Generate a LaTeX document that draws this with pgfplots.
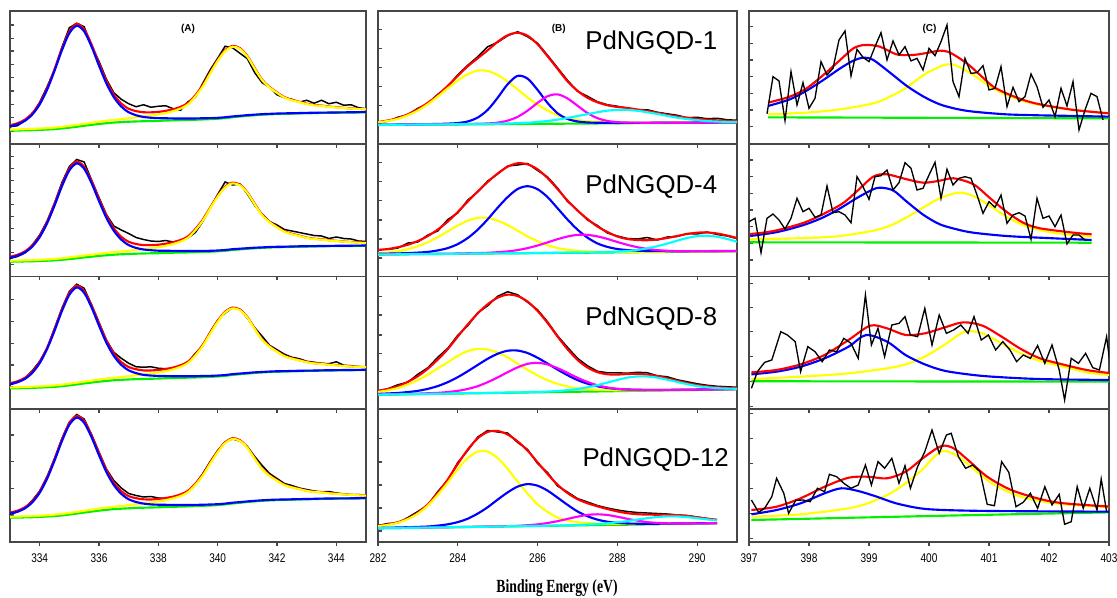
\documentclass[border=0pt]{standalone}
\usepackage{fontspec}
\setmainfont{Liberation Sans}
\newfontfamily\tnr{Liberation Serif}
\usepackage{graphicx}
\usepackage{pgfplots}
\usepackage{pgfplotstable}
\pgfplotsset{compat=1.18}
\definecolor{cYel}{RGB}{255,255,0}
\definecolor{cGrn}{RGB}{0,240,0}
\definecolor{cMag}{RGB}{255,0,255}
\definecolor{cCya}{RGB}{0,255,255}
\definecolor{cBlu}{RGB}{0,0,255}
\definecolor{cRed}{RGB}{255,0,0}

\pgfplotstableread{
E g bl ye re bk
333.00 13.1 17.4 14.2 18.5 17.0
333.25 13.2 19.4 14.3 20.5 18.0
333.50 13.4 22.9 14.6 24.1 23.0
333.75 13.6 29.2 14.9 30.5 29.5
334.00 13.9 39.3 15.2 40.6 41.5
334.25 14.2 54.0 15.6 55.4 57.0
334.50 14.6 72.9 16.2 74.5 74.0
334.75 15.3 93.5 16.9 95.1 96.5
335.00 16.1 110.5 17.9 112.3 116.0
335.25 17.0 118.0 18.9 119.9 120.5
335.50 18.0 112.4 20.0 114.4 117.0
335.75 18.9 97.1 21.0 99.2 98.0
336.00 19.8 78.1 22.1 80.4 82.5
336.25 20.5 60.3 23.0 62.8 64.5
336.50 21.2 46.6 23.8 49.2 51.0
336.75 21.6 37.2 24.6 40.2 44.5
337.00 22.0 31.5 25.5 35.0 40.0
337.25 22.3 28.5 26.4 32.6 37.0
337.50 22.5 26.8 27.2 31.5 39.0
337.75 22.7 26.0 28.1 31.4 36.5
338.00 22.9 25.6 29.2 31.9 37.5
338.25 23.2 25.5 30.6 32.9 38.0
338.50 23.4 25.3 32.6 34.5 35.0
338.75 23.6 25.3 35.2 36.9 33.5
339.00 23.8 25.3 39.3 40.8 42.0
339.25 24.0 25.3 47.3 48.6 46.5
339.50 24.3 25.5 57.4 58.6 60.5
339.75 24.6 25.6 70.4 71.4 74.0
340.00 25.0 25.9 82.8 83.7 85.5
340.25 25.6 26.5 92.6 93.5 97.5
340.50 26.5 27.3 97.0 97.8 96.0
340.75 27.2 27.9 94.9 95.6 90.5
341.00 27.9 28.6 87.1 87.8 85.0
341.25 28.5 29.1 75.0 75.6 71.0
341.50 29.0 29.6 63.5 64.1 61.0
341.75 29.4 29.9 56.2 56.7 56.5
342.00 29.7 30.2 50.9 51.4 49.0
342.25 29.9 30.4 46.1 46.6 46.0
342.50 30.1 30.5 43.5 43.9 44.5
342.75 30.3 30.7 41.6 42.0 41.5
343.00 30.5 30.9 39.7 40.1 43.5
343.25 30.6 31.0 38.4 38.8 40.5
343.50 30.8 31.1 37.9 38.2 43.5
343.75 30.9 31.2 36.9 37.2 40.0
344.00 31.0 31.3 36.3 36.6 41.5
344.25 31.1 31.4 35.7 35.9 38.5
344.50 31.2 31.5 35.1 35.3 39.0
344.75 31.3 31.6 34.7 34.9 36.0
345.00 31.4 31.7 34.4 34.6 35.0
}\tAone

\pgfplotstableread{
E g bl ye re bk
333.00 14.8 18.8 15.8 19.8 18.0
333.25 14.9 20.7 15.9 21.7 20.0
333.50 15.1 24.0 16.2 25.1 23.5
333.75 15.2 29.9 16.4 31.1 31.5
334.00 15.5 39.4 16.7 40.6 41.5
334.25 15.8 53.2 17.1 54.5 55.5
334.50 16.1 70.9 17.6 72.4 73.5
334.75 16.7 90.2 18.2 91.7 94.0
335.00 17.4 106.1 19.1 107.8 110.0
335.25 18.2 113.1 20.0 114.9 117.0
335.50 19.1 107.8 21.0 109.7 114.5
335.75 19.8 93.3 21.8 95.3 96.5
336.00 20.6 75.4 22.8 77.6 79.0
336.25 21.2 58.6 23.6 61.0 62.0
336.50 21.8 45.7 24.3 48.2 50.5
336.75 22.2 36.9 25.0 39.7 46.5
337.00 22.5 31.4 25.8 34.7 43.0
337.25 22.8 28.6 26.7 32.5 39.0
337.50 23.0 27.0 27.4 31.4 37.0
337.75 23.2 26.3 28.3 31.4 35.5
338.00 23.3 25.8 29.3 31.8 35.0
338.25 23.6 25.8 30.6 32.8 36.0
338.50 23.8 25.6 32.5 34.3 34.5
338.75 23.9 25.5 34.9 36.5 36.0
339.00 24.1 25.5 38.7 40.1 38.5
339.25 24.3 25.5 46.3 47.5 44.0
339.50 24.5 25.6 55.8 56.9 55.0
339.75 24.8 25.7 68.1 69.0 68.5
340.00 25.2 26.0 79.8 80.6 82.0
340.25 25.7 26.5 89.0 89.8 94.5
340.50 26.5 27.3 93.1 93.9 91.5
340.75 27.1 27.8 91.1 91.8 92.5
341.00 27.7 28.3 83.6 84.2 82.5
341.25 28.2 28.8 72.1 72.7 71.0
341.50 28.6 29.1 61.2 61.7 62.5
341.75 29.0 29.5 54.3 54.8 55.0
342.00 29.2 29.7 49.2 49.7 51.5
342.25 29.4 29.8 44.7 45.1 47.0
342.50 29.6 30.0 42.3 42.7 45.5
342.75 29.8 30.2 40.5 40.9 44.0
343.00 29.9 30.3 38.6 38.9 42.5
343.25 30.0 30.4 37.4 37.8 41.0
343.50 30.2 30.5 36.9 37.2 40.5
343.75 30.3 30.6 36.0 36.3 38.0
344.00 30.4 30.7 35.4 35.7 39.5
344.25 30.5 30.8 34.8 35.0 38.0
344.50 30.5 30.8 34.2 34.5 37.5
344.75 30.6 30.9 33.8 34.1 35.5
345.00 30.7 31.0 33.5 33.7 35.0
}\tAtwo

\pgfplotstableread{
E g bl ye re bk
333.00 20.9 25.0 21.9 26.0 24.5
333.25 21.0 27.0 22.0 28.0 27.0
333.50 21.2 30.3 22.3 31.4 31.0
333.75 21.4 36.4 22.6 37.6 38.5
334.00 21.7 46.1 22.9 47.3 48.0
334.25 22.0 60.2 23.3 61.5 61.0
334.50 22.4 78.4 23.9 79.9 81.0
334.75 23.1 98.2 24.6 99.7 101.0
335.00 23.9 114.5 25.6 116.2 118.0
335.25 24.8 121.8 26.6 123.6 125.0
335.50 25.8 116.4 27.7 118.3 121.0
335.75 26.7 101.8 28.7 103.8 104.5
336.00 27.6 83.6 29.8 85.8 87.0
336.25 28.3 66.5 30.7 68.9 69.0
336.50 29.0 53.4 31.5 55.9 57.0
336.75 29.4 44.4 32.2 47.2 51.0
337.00 29.8 38.9 33.1 42.2 46.0
337.25 30.1 36.1 34.0 40.0 42.5
337.50 30.3 34.4 34.7 38.8 42.0
337.75 30.5 33.7 35.6 38.8 42.5
338.00 30.7 33.3 36.7 39.3 41.0
338.25 31.0 33.2 38.0 40.2 40.5
338.50 31.2 33.0 39.9 41.7 41.0
338.75 31.4 33.0 42.4 44.0 42.5
339.00 31.6 33.0 46.2 47.6 47.0
339.25 31.8 33.0 53.8 55.0 56.0
339.50 32.1 33.3 63.4 64.6 63.5
339.75 32.4 33.4 75.7 76.7 77.5
340.00 32.8 33.7 87.4 88.3 89.0
340.25 33.4 34.2 96.7 97.5 96.0
340.50 34.3 35.1 100.9 101.7 101.5
340.75 35.0 35.7 99.0 99.7 100.0
341.00 35.7 36.3 91.6 92.2 91.0
341.25 36.3 36.9 80.2 80.8 81.5
341.50 36.8 37.3 69.4 69.9 73.0
341.75 37.2 37.7 62.5 63.0 64.0
342.00 37.5 38.0 57.5 58.0 59.5
342.25 37.7 38.1 53.0 53.4 55.0
342.50 37.9 38.3 50.6 51.0 52.0
342.75 38.1 38.5 48.8 49.2 50.5
343.00 38.3 38.6 47.0 47.3 48.0
343.25 38.4 38.7 45.8 46.1 47.0
343.50 38.6 38.9 45.3 45.6 46.0
343.75 38.7 39.0 44.4 44.7 45.5
344.00 38.8 39.1 43.8 44.1 47.5
344.25 38.9 39.2 43.2 43.4 44.0
344.50 39.0 39.3 42.7 42.9 43.5
344.75 39.1 39.4 42.3 42.5 42.5
345.00 39.2 39.5 42.0 42.2 42.0
}\tAthree

\pgfplotstableread{
E g bl ye re bk
333.00 24.3 28.4 25.3 29.4 28.0
333.25 24.4 30.3 25.4 31.3 30.0
333.50 24.6 33.6 25.7 34.7 34.0
333.75 24.8 39.6 26.0 40.8 41.5
334.00 25.1 49.2 26.3 50.4 51.0
334.25 25.5 63.3 26.8 64.6 65.5
334.50 25.9 81.3 27.4 82.8 83.5
334.75 26.6 100.9 28.1 102.4 103.5
335.00 27.5 117.2 29.1 118.8 120.0
335.25 28.4 124.4 30.1 126.1 127.5
335.50 29.5 119.2 31.3 121.0 123.0
335.75 30.4 104.7 32.3 106.6 107.5
336.00 31.4 86.8 33.5 88.9 90.0
336.25 32.1 69.9 34.4 72.2 73.0
336.50 32.9 57.0 35.3 59.4 61.5
336.75 33.3 48.1 36.0 50.8 54.0
337.00 33.7 42.7 36.9 45.9 48.5
337.25 34.1 40.0 37.9 43.8 46.5
337.50 34.3 38.4 38.6 42.7 45.0
337.75 34.5 37.6 39.4 42.5 45.5
338.00 34.7 37.3 40.5 43.1 44.0
338.25 35.0 37.2 41.8 44.0 43.5
338.50 35.2 37.0 43.6 45.4 45.0
338.75 35.4 37.0 46.0 47.6 46.5
339.00 35.6 37.0 49.8 51.2 50.0
339.25 35.9 37.1 57.2 58.4 58.0
339.50 36.2 37.3 66.5 67.6 68.5
339.75 36.5 37.5 78.4 79.4 80.5
340.00 36.9 37.8 89.8 90.7 91.5
340.25 37.6 38.4 98.9 99.7 100.0
340.50 38.5 39.3 103.0 103.8 103.0
340.75 39.2 39.9 101.1 101.8 101.0
341.00 40.0 40.6 94.2 94.8 95.5
341.25 40.6 41.2 83.1 83.7 85.5
341.50 41.2 41.7 72.8 73.3 76.5
341.75 41.6 42.1 66.1 66.6 68.5
342.00 41.9 42.4 61.3 61.8 63.5
342.25 42.1 42.5 56.9 57.3 58.5
342.50 42.3 42.7 54.6 55.0 56.5
342.75 42.5 42.9 52.8 53.2 54.0
343.00 42.7 43.0 51.1 51.4 52.5
343.25 42.9 43.2 50.0 50.3 51.0
343.50 43.1 43.4 49.6 49.9 50.0
343.75 43.2 43.5 48.7 49.0 50.5
344.00 43.3 43.6 48.1 48.4 49.0
344.25 43.4 43.6 47.6 47.8 48.0
344.50 43.5 43.7 47.1 47.3 47.0
344.75 43.6 43.8 46.7 46.9 47.5
345.00 43.7 43.9 46.4 46.6 46.5
}\tAfour

\pgfplotstableread{
E b ye bl ma cy re bk
282.00 18.8 21.3 19.0 18.9 18.9 21.7 21.0
282.25 18.9 22.8 19.1 19.0 19.0 23.3 22.5
282.50 18.9 24.9 19.2 19.0 19.0 25.6 26.5
282.75 19.0 28.5 19.3 19.1 19.1 29.5 29.0
283.00 19.1 33.2 19.5 19.3 19.2 34.5 35.5
283.25 19.1 39.6 19.6 19.3 19.2 41.0 40.0
283.50 19.2 47.2 19.8 19.4 19.3 48.5 49.5
283.75 19.3 55.5 20.1 19.6 19.4 58.0 57.0
284.00 19.3 63.3 20.7 19.6 19.5 68.0 69.0
284.25 19.4 69.6 22.3 19.8 19.6 77.5 78.5
284.50 19.5 73.2 26.2 20.0 19.7 85.5 87.0
284.75 19.5 72.8 33.9 20.3 19.8 93.5 97.0
285.00 19.6 68.8 46.0 21.1 20.0 102.0 101.5
285.25 19.7 62.2 59.5 23.1 20.2 108.5 108.0
285.50 19.8 54.4 67.9 26.9 20.6 111.0 112.0
285.75 19.8 46.2 65.1 33.1 21.0 108.0 107.0
286.00 19.9 39.1 53.9 40.9 21.8 99.5 100.5
286.25 20.0 33.2 40.8 47.5 22.8 87.5 88.5
286.50 20.0 28.6 30.5 49.4 24.1 75.0 76.0
286.75 20.1 25.7 24.8 45.3 25.8 62.5 63.5
287.00 20.2 23.8 22.3 38.1 27.7 53.0 52.5
287.25 20.2 22.5 21.3 30.8 29.6 46.0 47.5
287.50 20.3 21.9 21.0 25.6 31.5 41.5 42.0
287.75 20.4 21.6 20.9 22.8 33.1 38.5 39.0
288.00 20.4 21.3 20.8 21.6 33.8 36.8 37.5
288.25 20.5 21.3 20.9 21.2 33.9 35.8 35.5
288.50 20.6 21.2 20.9 21.1 33.0 34.3 33.5
288.75 20.6 21.1 20.9 21.0 31.5 32.7 34.0
289.00 20.7 21.2 21.0 21.0 29.8 30.9 31.5
289.25 20.8 21.2 21.1 21.1 27.9 29.0 30.0
289.50 20.8 21.2 21.0 21.0 26.1 27.3 28.5
289.75 20.9 21.3 21.1 21.1 24.7 26.0 26.0
290.00 21.0 21.3 21.2 21.2 23.6 24.9 26.5
290.25 21.0 21.3 21.2 21.2 22.7 24.0 25.0
290.50 21.1 21.4 21.3 21.3 22.2 23.4 25.5
290.75 21.2 21.5 21.4 21.4 21.9 23.0 24.0
291.00 21.2 21.5 21.4 21.3 21.7 22.7 23.5
}\tBone

\pgfplotstableread{
E b ye bl ma cy re bk
282.00 22.0 23.3 22.7 22.1 22.0 26.5 27.0
282.25 22.1 24.0 22.9 22.2 22.1 27.5 27.0
282.50 22.2 25.3 23.1 22.3 22.2 29.3 28.5
282.75 22.3 27.3 23.4 22.4 22.3 31.8 33.5
283.00 22.4 30.3 23.9 22.5 22.4 35.5 34.5
283.25 22.4 34.3 24.6 22.6 22.4 40.5 41.5
283.50 22.5 39.4 26.1 22.7 22.5 47.0 45.5
283.75 22.6 45.2 28.4 22.8 22.6 55.0 57.0
284.00 22.7 51.0 32.4 23.0 22.8 64.5 63.5
284.25 22.8 55.8 38.5 23.2 22.9 75.0 76.5
284.50 22.9 58.6 46.8 23.4 23.0 85.0 84.5
284.75 23.0 58.6 57.2 23.7 23.1 94.5 95.5
285.00 23.1 55.8 68.8 24.3 23.1 103.0 102.5
285.25 23.1 51.4 79.4 25.1 23.2 109.8 110.5
285.50 23.2 45.8 87.5 26.4 23.3 113.2 111.5
285.75 23.3 40.0 90.3 28.4 23.4 112.2 113.0
286.00 23.4 35.3 87.3 31.0 23.5 107.2 106.0
286.25 23.5 31.2 79.4 34.1 23.6 98.5 99.5
286.50 23.6 28.5 68.3 37.3 23.8 87.5 88.5
286.75 23.7 26.8 57.0 40.0 23.9 76.0 75.0
287.00 23.8 25.7 46.9 41.6 24.0 66.0 66.5
287.25 23.8 25.1 38.9 41.6 24.1 57.5 56.5
287.50 23.9 24.8 33.1 40.1 24.2 50.0 51.0
287.75 24.0 24.7 29.6 37.6 24.5 44.5 43.5
288.00 24.1 24.6 27.5 34.5 24.9 40.0 40.5
288.25 24.2 24.7 26.4 31.7 25.5 37.5 38.0
288.50 24.3 24.7 25.8 29.3 26.5 36.5 37.5
288.75 24.4 24.8 25.5 27.6 28.2 36.3 39.0
289.00 24.5 24.8 25.4 26.4 30.3 37.0 36.5
289.25 24.5 24.8 25.3 25.7 32.9 38.5 39.5
289.50 24.6 24.9 25.3 25.3 35.8 40.5 40.0
289.75 24.7 25.0 25.3 25.2 38.5 42.5 43.0
290.00 24.8 25.0 25.4 25.2 40.4 43.8 42.5
290.25 24.9 25.1 25.4 25.2 40.8 44.0 44.5
290.50 25.0 25.2 25.5 25.3 39.7 43.0 42.0
290.75 25.1 25.3 25.5 25.4 37.6 41.0 40.5
291.00 25.2 25.4 25.6 25.4 34.8 38.5 38.0
}\tBtwo

\pgfplotstableread{
E b ye bl ma cy re bk
282.00 14.5 17.3 15.3 14.8 14.6 18.5 18.0
282.25 14.7 18.9 15.8 15.0 14.8 20.4 20.5
282.50 14.8 21.3 16.3 15.2 14.9 23.0 24.5
282.75 15.0 24.8 17.2 15.4 15.1 27.5 27.0
283.00 15.1 29.2 18.4 15.6 15.2 33.1 35.0
283.25 15.3 34.7 20.4 16.0 15.4 40.6 41.5
283.50 15.4 40.9 23.2 16.4 15.5 49.8 52.0
283.75 15.6 47.0 27.1 17.2 15.7 60.2 61.0
284.00 15.7 53.4 32.1 18.4 15.9 72.7 74.0
284.25 15.9 58.1 38.0 20.3 16.1 84.8 83.5
284.50 16.0 60.3 44.3 23.1 16.1 95.8 96.5
284.75 16.2 59.7 50.5 27.1 16.3 105.0 103.5
285.00 16.3 56.7 55.5 31.8 16.5 111.6 113.0
285.25 16.5 51.8 58.5 37.1 16.7 114.6 117.5
285.50 16.6 45.6 58.7 41.9 16.8 113.2 114.5
285.75 16.8 39.4 56.2 45.4 17.1 107.7 107.0
286.00 16.9 33.8 51.5 46.4 17.3 98.3 99.5
286.25 17.1 29.0 45.7 44.8 17.7 86.4 87.5
286.50 17.2 25.4 39.7 41.1 18.2 72.8 73.5
286.75 17.4 22.7 34.1 36.4 19.1 60.1 62.0
287.00 17.5 21.0 29.2 31.5 20.2 49.4 51.0
287.25 17.7 20.0 25.6 27.3 22.0 41.8 43.5
287.50 17.8 19.4 23.0 24.0 24.1 37.1 38.0
287.75 18.0 19.2 21.3 21.8 26.7 35.0 36.5
288.00 18.1 19.0 20.3 20.4 29.3 34.7 36.5
288.25 18.3 19.0 19.8 19.7 31.6 35.2 36.0
288.50 18.4 19.0 19.5 19.3 32.8 35.4 37.0
288.75 18.6 19.1 19.4 19.2 32.8 34.7 36.5
289.00 18.7 19.2 19.4 19.2 31.6 33.2 33.5
289.25 18.9 19.3 19.4 19.3 29.6 30.9 32.5
289.50 19.0 19.4 19.5 19.4 27.3 28.5 29.5
289.75 19.2 19.5 19.6 19.5 25.1 26.1 27.5
290.00 19.3 19.6 19.7 19.6 23.2 24.2 25.5
290.25 19.5 19.8 19.9 19.7 22.0 22.9 24.0
290.50 19.6 19.9 20.0 19.9 21.1 22.0 23.0
290.75 19.8 20.0 20.1 20.0 20.7 21.4 22.5
291.00 19.9 20.1 20.2 20.1 20.5 21.2 22.0
}\tBthree

\pgfplotstableread{
E b ye bl ma cy re bk
282.00 13.7 15.8 14.1 13.7 13.7 16.2 16.5
282.25 13.9 17.1 14.3 13.9 13.9 17.6 18.5
282.50 14.0 19.2 14.5 14.0 14.0 19.8 19.0
282.75 14.2 22.9 14.8 14.2 14.2 23.5 24.5
283.00 14.3 28.4 15.1 14.4 14.3 29.3 30.5
283.25 14.4 36.4 15.5 14.5 14.4 37.6 37.0
283.50 14.6 47.3 16.4 14.7 14.6 49.2 50.5
283.75 14.7 59.5 17.7 14.8 14.7 62.6 62.0
284.00 14.9 73.0 19.9 15.0 14.9 78.1 79.5
284.25 15.0 84.0 23.3 15.1 15.0 92.4 91.5
284.50 15.2 90.4 28.4 15.3 15.2 103.7 105.0
284.75 15.3 90.4 34.8 15.5 15.3 110.1 111.5
285.00 15.5 83.9 42.4 15.7 15.5 111.0 110.0
285.25 15.6 73.1 49.6 15.9 15.7 107.5 109.0
285.50 15.7 60.3 55.4 16.2 15.8 100.6 99.5
285.75 15.9 48.4 57.9 16.8 16.0 91.4 92.5
286.00 16.0 37.7 56.3 17.6 16.1 79.7 78.5
286.25 16.2 30.0 51.4 19.0 16.3 68.1 69.5
286.50 16.3 24.5 44.4 20.8 16.5 57.3 56.0
286.75 16.5 21.5 37.2 23.1 16.7 49.0 50.0
287.00 16.6 19.8 30.6 25.3 17.0 42.9 43.5
287.25 16.8 18.9 25.8 27.1 17.4 38.8 40.0
287.50 16.9 18.4 22.4 27.7 17.9 35.7 36.5
287.75 17.1 18.2 20.3 27.0 18.7 33.0 34.0
288.00 17.2 18.1 19.1 25.3 19.7 30.6 32.0
288.25 17.3 18.1 18.5 23.2 20.9 28.8 30.5
288.50 17.5 18.2 18.3 21.4 22.4 27.8 29.5
288.75 17.6 18.2 18.3 19.9 23.8 27.4 29.0
289.00 17.8 18.3 18.3 19.1 25.0 27.3 28.5
289.25 17.9 18.4 18.4 18.7 25.6 27.3 28.0
289.50 18.1 18.5 18.5 18.5 25.6 26.8 27.0
289.75 18.2 18.6 18.6 18.5 24.9 26.0 26.5
290.00 18.4 18.7 18.7 18.6 23.8 24.7 25.0
290.25 18.5 18.8 18.8 18.7 22.6 23.4 23.5
290.50 18.6 18.9 18.9 18.8 21.5 22.3 nan
}\tBfour

\pgfplotsset{
  panel/.style={scale only axis, height=99.5625pt, ymin=0, ymax=132.75,
    anchor=south west, tick pos=left, xtick align=outside, ytick align=inside,
    major tick length=3pt, yticklabels={}, no markers,
    axis line style={draw=black!72, line width=1.2pt},
    every tick/.style={draw=black!72, line width=0.8pt}},
  colA/.style={width=267pt, xmin=333, xmax=345, xtick={334,336,338,340,342,344}},
  colB/.style={width=269.25pt, xmin=282, xmax=291, xtick={282,284,286,288,290}},
  colC/.style={width=270pt, xmin=397, xmax=403, xtick={397,398,399,400,401,402,403}},
  nolab/.style={xticklabels={}},
  lab/.style={xticklabel={\scalebox{0.8}[1]{\pgfmathprintnumber[assume math mode=true]{\tick}}},
    xticklabel style={font=\fontsize{9.45}{10}\selectfont, yshift=-2.25pt}},
  cv/.style={line width=1.6pt, smooth},
  dat/.style={black, line width=1.1pt},
}

\newcommand{\Aplots}[1]{%
  \addplot[dat] table[x=E,y=bk]{#1};
  \addplot[cv,cRed] table[x=E,y=re]{#1};
  \addplot[cv,cGrn] table[x=E,y=g]{#1};
  \addplot[cv,cYel] table[x=E,y=ye]{#1};
  \addplot[cv,cBlu] table[x=E,y=bl]{#1};
}
\newcommand{\Bplots}[1]{%
  \addplot[dat] table[x=E,y=bk]{#1};
  \addplot[cv,cRed] table[x=E,y=re]{#1};
  \addplot[cv,cGrn] table[x=E,y=b]{#1};
  \addplot[cv,cYel] table[x=E,y=ye]{#1};
  \addplot[cv,cBlu] table[x=E,y=bl]{#1};
  \addplot[cv,cMag] table[x=E,y=ma]{#1};
  \addplot[cv,cCya] table[x=E,y=cy]{#1};
}
\newcommand{\pname}[3]{\node[anchor=base west, inner sep=0pt, font=\fontsize{19.35}{20}\selectfont] at (axis cs:#1,#2) {#3};}

\begin{document}
\begin{tikzpicture}
\useasboundingbox (0pt,0pt) rectangle (837.75pt,447.75pt);

% ---------- Column A ----------
\begin{axis}[panel, colA, nolab, at={(7.5pt,339.9375pt)},
  ytick={12.75,26.1,39.4,52.75,66.1,79.4,92.75,105.4,118.75}]
\Aplots{\tAone}
\node[font=\bfseries\fontsize{7.5}{8}\selectfont] at (axis cs:339.0,115) {(A)};
\end{axis}
\begin{axis}[panel, colA, nolab, at={(7.5pt,240.375pt)},
  ytick={12.2,24.2,35.8,48.2,59.8,72.2,84.2,95.8,108.2,119.8}]
\Aplots{\tAtwo}
\end{axis}
\begin{axis}[panel, colA, nolab, at={(7.5pt,140.8125pt)},
  ytick={22.6,44.25,65.9,87.6,109.9}]
\Aplots{\tAthree}
\end{axis}
\begin{axis}[panel, colA, lab, at={(7.5pt,41.25pt)},
  ytick={27,53.7,80.3,107}]
\Aplots{\tAfour}
\end{axis}

% ---------- Column B ----------
\begin{axis}[panel, colB, nolab, at={(283.5pt,339.9375pt)},
  ytick={19.75,38.4,57.1,76.1,95.1,114.4}]
\Bplots{\tBone}
\node[font=\bfseries\fontsize{7.5}{8}\selectfont] at (axis cs:286.53,115) {(B)};
\pname{287.19}{93.75}{PdNGQD-1}
\end{axis}
\begin{axis}[panel, colB, nolab, at={(283.5pt,240.375pt)},
  ytick={18.5,37.5,56.5,75.8,94.8,114.2}]
\Bplots{\tBtwo}
\pname{287.19}{83.2}{PdNGQD-4}
\end{axis}
\begin{axis}[panel, colB, nolab, at={(283.5pt,140.8125pt)},
  ytick={19,37.6,55.9,74.25,94.25,112.6}]
\Bplots{\tBthree}
\pname{287.19}{84.25}{PdNGQD-8}
\end{axis}
\begin{axis}[panel, colB, lab, at={(283.5pt,41.25pt)},
  ytick={11,34,57,80,103.5}]
\Bplots{\tBfour}
\pname{287.12}{75.3}{PdNGQD-12}
\end{axis}

% ---------- Column C ----------
\begin{axis}[panel, colC, nolab, at={(561.75pt,339.9375pt)},
  ytick={17.1,33.75,50.4,67.1,83.75,100.4,117.1}]
\addplot[cv,cGrn] coordinates {(397.32,26.4) (403.0,25.4)};
\addplot[cv,cYel] coordinates {(397.32,29.4) (397.96,31.1) (398.52,34.4) (399.07,40.4) (399.35,47.1) (399.63,56.4) (399.91,68.8) (400.18,77.1) (400.32,79.4) (400.46,78.1) (400.74,68.8) (401.02,57.1) (401.29,48.8) (401.57,42.8) (401.85,38.8) (402.41,33.8) (403.0,30.4)};
\addplot[cv,cBlu] coordinates {(397.32,37.8) (397.68,44.4) (397.96,53.1) (398.24,63.8) (398.52,75.4) (398.74,83.1) (398.91,86.1) (399.07,83.8) (399.35,71.1) (399.63,57.8) (399.91,47.1) (400.18,39.4) (400.46,34.8) (400.74,32.1) (401.29,29.4) (401.85,28.4) (402.41,27.8) (403.0,27.1)};
\addplot[cv,cRed] coordinates {(397.32,41.1) (397.68,47.1) (397.96,55.4) (398.24,68.8) (398.52,83.8) (398.74,95.4) (398.93,98.8) (399.18,97.1) (399.46,89.4) (399.74,88.8) (400.02,91.4) (400.18,93.1) (400.35,91.1) (400.63,80.4) (400.85,68.8) (401.07,57.1) (401.29,50.4) (401.57,43.8) (401.85,39.4) (402.41,33.8) (403.0,30.4)};
\addplot[dat, line width=1pt] coordinates {(397.3,30.0) (397.4,67.1) (397.5,62.8) (397.6,23.1) (397.7,72.1) (397.8,38.8) (397.9,61.1) (398.0,35.4) (398.1,45.4) (398.2,82.1) (398.3,68.8) (398.4,75.4) (398.5,103.8) (398.6,112.8) (398.7,67.8) (398.8,94.4) (398.9,86.4) (399.0,82.1) (399.1,97.1) (399.2,111.1) (399.3,83.8) (399.4,102.8) (399.5,88.8) (399.6,97.1) (399.7,82.8) (399.8,85.4) (399.9,73.8) (400.0,95.4) (400.1,88.1) (400.2,102.1) (400.3,118.8) (400.4,62.1) (400.5,47.1) (400.6,85.4) (400.7,70.4) (400.8,71.1) (400.9,78.1) (401.0,53.8) (401.1,55.4) (401.2,77.1) (401.3,37.1) (401.4,56.4) (401.5,42.1) (401.6,47.1) (401.7,69.8) (401.8,57.1) (401.9,36.4) (402.0,43.8) (402.1,27.1) (402.2,55.4) (402.3,37.8) (402.4,62.1) (402.5,13.8) (402.6,33.8) (402.7,50.4) (402.8,47.1) (402.9,23.8)};
\node[font=\bfseries\fontsize{7.5}{8}\selectfont] at (axis cs:400.01,115) {(C)};
\end{axis}

\begin{axis}[panel, colC, nolab, at={(561.75pt,240.375pt)},
  ytick={16.5,33.2,49.8,66.5,83.2,99.8,116.5}]
\addplot[cv,cGrn] coordinates {(397.02,34.2) (402.71,33.8)};
\addplot[cv,cYel] coordinates {(397.02,37.2) (397.96,38.5) (398.52,40.5) (399.07,45.8) (399.35,50.8) (399.63,59.2) (399.91,69.2) (400.18,78.2) (400.49,83.8) (400.74,80.5) (401.02,70.5) (401.29,59.8) (401.57,51.5) (401.85,46.5) (402.13,43.2) (402.41,41.5) (402.71,39.8)};
\addplot[cv,cBlu] coordinates {(397.02,40.5) (397.41,43.8) (397.68,47.5) (397.96,52.5) (398.24,59.2) (398.52,68.2) (398.79,78.2) (399.07,87.2) (399.21,88.8) (399.41,85.8) (399.63,74.8) (399.91,61.5) (400.18,52.2) (400.46,47.2) (400.74,43.8) (401.29,40.5) (401.85,38.8) (402.71,36.5)};
\addplot[cv,cRed] coordinates {(397.02,42.5) (397.41,45.5) (397.96,54.8) (398.52,71.5) (398.79,84.8) (399.07,99.8) (399.29,102.2) (399.63,97.2) (399.91,93.8) (400.18,95.8) (400.41,98.2) (400.74,92.2) (401.02,78.2) (401.29,64.8) (401.57,53.8) (401.85,48.2) (402.41,43.8) (402.71,42.2)};
\addplot[dat, line width=1pt] coordinates {(397.0,54.8) (397.1,58.2) (397.2,23.8) (397.3,58.2) (397.4,62.5) (397.5,56.5) (397.6,47.5) (397.7,58.2) (397.8,78.2) (397.9,64.8) (398.0,68.2) (398.1,59.2) (398.2,61.5) (398.3,90.5) (398.4,63.8) (398.5,64.8) (398.6,61.5) (398.7,53.8) (398.8,99.8) (398.9,89.8) (399.0,77.2) (399.1,99.8) (399.2,100.8) (399.3,106.5) (399.4,86.5) (399.5,93.8) (399.6,113.8) (399.7,108.2) (399.8,86.5) (399.9,88.2) (400.0,101.5) (400.1,114.2) (400.2,78.2) (400.3,107.2) (400.4,91.5) (400.5,98.2) (400.6,99.8) (400.7,98.2) (400.8,81.5) (400.9,63.2) (401.0,74.8) (401.1,69.2) (401.2,81.5) (401.3,53.2) (401.4,61.5) (401.5,63.8) (401.6,60.5) (401.7,37.2) (401.8,78.2) (401.9,58.2) (402.0,60.5) (402.1,49.8) (402.2,61.5) (402.3,32.5) (402.4,41.5) (402.5,41.5) (402.6,36.5)};
\end{axis}

\begin{axis}[panel, colC, nolab, at={(561.75pt,140.8125pt)},
  ytick={3,27.6,52.6,77.6,101.6,126}]
\addplot[cv,cGrn] coordinates {(397.04,28.0) (403.04,27.6)};
\addplot[cv,cYel] coordinates {(397.04,30.2) (397.86,32.6) (398.66,35.9) (399.30,40.9) (399.61,44.9) (399.93,52.6) (400.25,64.2) (400.49,74.2) (400.63,78.2) (400.89,75.9) (401.21,65.9) (401.53,55.9) (401.85,48.2) (402.25,42.6) (402.65,36.6) (403.04,34.2)};
\addplot[cv,cBlu] coordinates {(397.04,34.9) (397.46,37.6) (397.86,42.6) (398.26,50.9) (398.66,62.6) (398.95,74.2) (399.30,67.6) (399.61,54.2) (399.93,44.9) (400.25,38.6) (400.65,34.9) (401.05,32.6) (401.85,30.2) (403.04,29.2)};
\addplot[cv,cRed] coordinates {(397.04,36.9) (397.46,39.3) (397.86,44.9) (398.26,54.3) (398.66,69.3) (399.02,83.6) (399.30,80.9) (399.61,74.3) (399.93,75.9) (400.25,81.6) (400.57,86.9) (400.89,83.6) (401.21,72.6) (401.53,60.3) (401.85,50.9) (402.25,44.5) (402.65,39.0) (403.04,36.0)};
\addplot[dat, line width=1pt] coordinates {(397.04,20.9) (397.14,37.6) (397.26,46.9) (397.38,49.25) (397.53,77.6) (397.64,74.25) (397.77,67.6) (397.86,37.6) (397.98,62.6) (398.10,57.6) (398.22,47.6) (398.34,59.25) (398.46,57.6) (398.58,70.9) (398.70,65.9) (398.82,50.9) (398.94,114.25) (399.04,64.25) (399.15,80.9) (399.26,52.6) (399.38,84.25) (399.50,85.9) (399.60,92.6) (399.69,74.25) (399.81,72.6) (399.93,100.9) (400.05,64.25) (400.17,94.25) (400.29,75.9) (400.41,79.25) (400.53,84.25) (400.65,75.9) (400.75,92.6) (400.87,69.25) (400.99,74.25) (401.11,59.25) (401.23,67.6) (401.35,59.25) (401.46,47.6) (401.57,54.25) (401.69,50.9) (401.81,63.6) (401.93,45.9) (402.05,64.25) (402.17,39.25) (402.26,9.25) (402.37,50.9) (402.49,45.9) (402.61,55.9) (402.73,41.6) (402.84,39.25) (402.96,72.6) (403.04,34.25)};
\end{axis}

\begin{axis}[panel, colC, lab, at={(561.75pt,41.25pt)},
  ytick={3.7,28.7,53.7,78.7,103.7,128.7}]
\addplot[cv,cGrn] coordinates {(397.04,22.0) (400.25,26.3) (403.04,29.7)};
\addplot[cv,cYel] coordinates {(397.04,25.3) (397.86,27.7) (398.66,33.7) (399.05,40.3) (399.45,52.0) (399.85,70.3) (400.09,85.3) (400.25,91.3) (400.49,85.3) (400.73,73.7) (401.05,58.7) (401.45,47.0) (401.85,41.0) (402.25,37.7) (403.04,34.7)};
\addplot[cv,cBlu] coordinates {(397.04,27.7) (397.46,32.0) (397.86,38.7) (398.26,48.7) (398.54,53.7) (398.82,51.0) (399.13,45.3) (399.45,38.7) (399.85,33.7) (400.25,32.0) (401.05,31.0) (403.04,30.3)};
\addplot[cv,cRed] coordinates {(397.04,32.0) (397.46,35.3) (397.86,43.7) (398.26,55.3) (398.66,64.3) (398.98,65.3) (399.30,63.7) (399.61,70.3) (399.93,85.3) (400.21,96.0) (400.41,93.7) (400.65,82.0) (400.97,65.3) (401.37,52.0) (401.85,43.0) (402.25,38.7) (403.04,35.3)};
\addplot[dat, line width=1pt] coordinates {(397.04,42) (397.16,29.7) (397.26,33.7) (397.38,45.3) (397.46,63.7) (397.58,48.7) (397.66,28.7) (397.78,41.7) (397.90,42) (398.02,40.3) (398.14,53.7) (398.26,50.3) (398.34,67.7) (398.46,65.3) (398.58,58.7) (398.70,53.7) (398.82,57) (398.94,77) (399.04,57) (399.15,80.3) (399.26,73.7) (399.38,83.7) (399.50,58.7) (399.60,76.3) (399.69,53.7) (399.81,75.3) (399.93,90.3) (400.05,112) (400.17,88.7) (400.29,107) (400.37,108.7) (400.49,85.3) (400.61,73.7) (400.73,77) (400.85,70.3) (400.97,37.7) (401.09,36.3) (401.21,80.3) (401.33,69.7) (401.45,35.3) (401.57,39.7) (401.69,48.7) (401.81,33.7) (401.93,55.3) (402.05,37) (402.17,47.7) (402.26,17.7) (402.37,20.3) (402.47,55.3) (402.57,33.7) (402.68,53.7) (402.80,32) (402.87,63) (402.96,30.3)};
\end{axis}

\node[font={\tnr\bfseries\fontsize{13.9}{15}\selectfont}] at (417.75pt,6.5pt) {\scalebox{0.74}[1]{Binding Energy (eV)}};
\end{tikzpicture}
\end{document}
